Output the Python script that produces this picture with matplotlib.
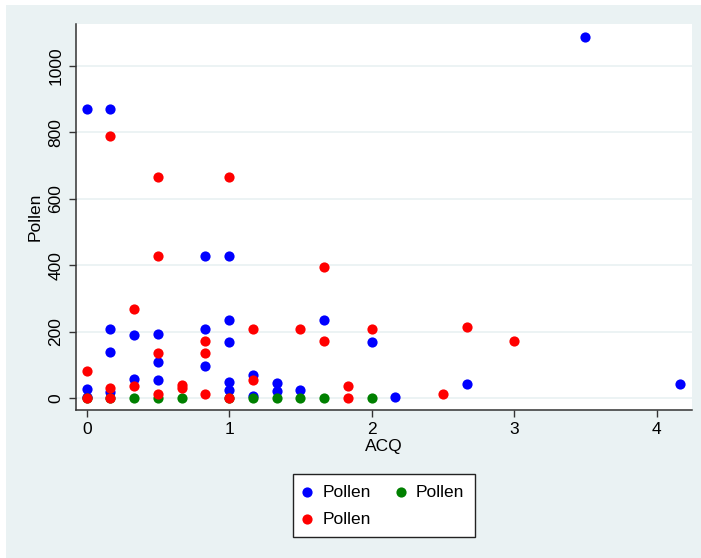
import matplotlib
matplotlib.use("Agg")
import matplotlib.pyplot as plt
from matplotlib.patches import Rectangle

# blue series
blue_x = [0, 0, 0, 1/6, 1/6, 1/6, 1/6, 1/3, 1/3, 0.5, 0.5, 0.5, 5/6, 5/6, 5/6,
          1, 1, 1, 1, 1, 7/6, 7/6, 4/3, 4/3, 1.5, 5/3, 2, 13/6, 8/3, 3.5, 25/6]
blue_y = [870, 27, 3, 870, 209, 139, 18, 190, 58, 192, 108, 56, 427, 209, 97,
          427, 234, 168, 48, 25, 70, 8, 45, 22, 25, 234, 168, 3, 43, 1087, 43]

# green series
green_x = [0, 1/6, 1/3, 0.5, 2/3, 1, 7/6, 4/3, 1.5, 5/3, 2]
green_y = [0, 0, 0, 0, 0, 0, 0, 0, 0, 0, 0]

# red series
red_x = [0, 0, 1/6, 1/6, 1/6, 1/3, 1/3, 0.5, 0.5, 0.5, 0.5, 2/3, 2/3,
         5/6, 5/6, 5/6, 1, 1, 7/6, 7/6, 1.5, 5/3, 5/3, 11/6, 11/6, 2, 2.5, 8/3, 3]
red_y = [82, 0, 788, 32, 0, 267, 38, 665, 427, 137, 12, 40, 30,
         172, 135, 14, 665, 0, 208, 54, 207, 395, 172, 38, 0, 209, 13, 214, 172]

x_ticks = [0, 1, 2, 3, 4]
y_ticks = [0, 200, 400, 600, 800, 1000]

BG = "#EAF2F3"
plt.rcParams["font.family"] = ["Liberation Sans", "DejaVu Sans"]

W, H = 701, 558
fig = plt.figure(figsize=(W / 100, H / 100), dpi=100)
fig.patch.set_facecolor("white")
fig.add_artist(Rectangle((6 / W, 0), 1 - 6 / W, 1 - 5 / H, transform=fig.transFigure,
                         facecolor=BG, edgecolor="none", zorder=-10))

ax = fig.add_axes([76 / W, 1 - 410 / H, (692 - 76) / W, (410 - 24) / H])
ax.set_facecolor("white")

ms = 54
hb = ax.scatter(blue_x, blue_y, s=ms, color="#0000FF", linewidths=0, label="Pollen", zorder=3)
hg = ax.scatter(green_x, green_y, s=ms, color="#008000", linewidths=0, label="Pollen", zorder=3)
hr = ax.scatter(red_x, red_y, s=ms, color="#FF0000", linewidths=0, label="Pollen", zorder=3)

ax.set_xlim(-0.0751, 4.248)
ax.set_ylim(-35.2, 1125.4)
ax.set_xticks(x_ticks)
ax.set_yticks(y_ticks)
ax.set_yticklabels([str(v) for v in y_ticks], rotation=90, va="center")
ax.tick_params(direction="out", length=5, width=1, color="#333333",
               labelsize=12.5, pad=4)
ax.grid(axis="y", color=BG, linewidth=1.3, zorder=0)
ax.set_axisbelow(True)
for s in ["top", "right"]:
    ax.spines[s].set_visible(False)
for s in ["left", "bottom"]:
    ax.spines[s].set_color("#333333")
    ax.spines[s].set_linewidth(1.1)

ax.set_xlabel("ACQ", fontsize=12.5, labelpad=1)
ax.set_ylabel("Pollen", fontsize=12.5, labelpad=4)

# matplotlib fills legend columns first, so order blue, red, green
leg = fig.legend([hb, hr, hg], ["Pollen", "Pollen", "Pollen"],
                 loc="upper center", bbox_to_anchor=(384 / W, 1 - 474 / H), ncol=2,
                 fontsize=12.5, frameon=True, fancybox=False, edgecolor="#222222",
                 framealpha=1, markerscale=1, handletextpad=0.66, columnspacing=1.55,
                 borderpad=0.6, labelspacing=0.68, handlelength=0.4, borderaxespad=0)
leg.get_frame().set_linewidth(1.0)

fig.savefig("out.png", dpi=100, facecolor=fig.get_facecolor())
